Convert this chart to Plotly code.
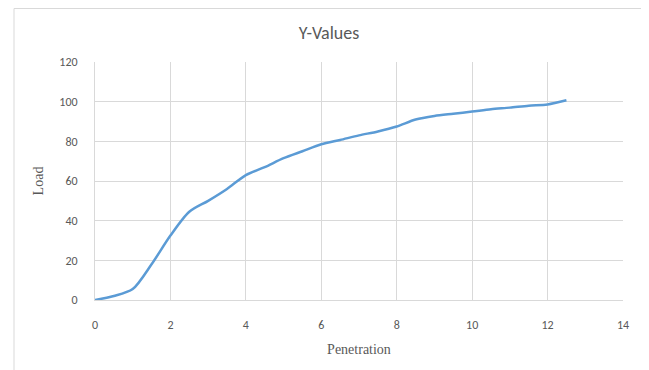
import plotly.graph_objects as go

penetration = [0, 0.5, 1, 1.5, 2, 2.5, 3, 3.5, 4, 4.5, 5, 5.5, 6, 6.5, 7, 7.5, 8,
               8.5, 9, 9.5, 10, 10.5, 11, 11.5, 12, 12.5]
load = [0, 2, 5.5, 18, 32.5, 44.5, 50, 56, 63, 67, 71.5, 75, 78.5, 80.7, 83, 85, 87.5,
        91, 92.8, 93.9, 95, 96.2, 97, 98, 98.6, 100.7]

x_ticks = [0, 2, 4, 6, 8, 10, 12, 14]
y_ticks = [0, 20, 40, 60, 80, 100, 120]

# page body has an 8px default margin; compensate
OFF = 8
W, H = 649 - OFF, 370 - OFF
L, T = 95 - OFF, 62 - OFF
R, B = 26, 70
pw, ph = W - L - R, H - T - B

def px_x(p):
    return (p - OFF - L) / pw

def px_y(p):
    return (H - B - (p - OFF)) / ph

fig = go.Figure()
fig.add_trace(go.Scatter(
    x=penetration, y=load, mode="lines",
    line=dict(color="#5B9BD5", width=2.5, shape="spline", smoothing=0.8),
    showlegend=False, hoverinfo="x+y",
))

fig.add_shape(type="rect", xref="paper", yref="paper",
              x0=px_x(14), x1=px_x(646), y0=px_y(400), y1=px_y(8.5),
              line=dict(color="#d9d9d9", width=1), fillcolor="rgba(0,0,0,0)", layer="below")

tick_font = dict(family="Carlito, Lato, 'Open Sans', sans-serif", size=12, color="#595959")
title_font = dict(family="'Liberation Serif', 'DejaVu Serif', serif", size=14, color="#595959")

fig.update_layout(
    width=W, height=H,
    margin=dict(l=L, r=R, t=T, b=B),
    paper_bgcolor="white", plot_bgcolor="white",
    title=dict(text="Y-Values", x=(329 - OFF) / W, xref="container", xanchor="center",
               y=1 - (33 - OFF) / H, yanchor="middle",
               font=dict(family="Carlito, Lato, 'Open Sans', sans-serif", size=18, color="#595959")),
    xaxis=dict(range=[0, 14], tickvals=x_ticks, showgrid=True, gridcolor="#d9d9d9", gridwidth=1,
               zeroline=False, showline=True, linecolor="#d9d9d9", linewidth=1,
               ticks="", tickfont=tick_font, ticklabelstandoff=14,
               title=dict(text="Penetration", font=title_font, standoff=12)),
    yaxis=dict(range=[0, 120], tickvals=y_ticks, showgrid=True, gridcolor="#d9d9d9", gridwidth=1,
               zeroline=False, showline=True, linecolor="#d9d9d9", linewidth=1,
               ticks="", tickfont=tick_font, ticklabelstandoff=14,
               title=dict(text="Load", font=title_font, standoff=12)),
)

fig.write_html("out.html")
